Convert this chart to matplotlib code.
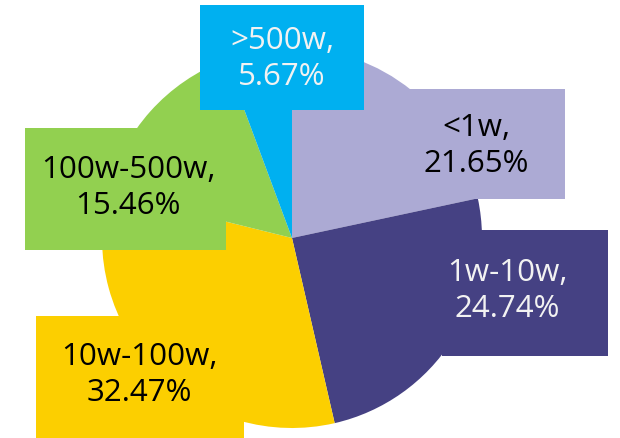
import matplotlib.pyplot as plt
from matplotlib.patches import Rectangle

# data
categorias = ['<1w', '1w-10w', '10w-100w', '100w-500w', '>500w']
percentuais = [21.65, 24.74, 32.47, 15.46, 5.67]
cores = ['#ACAAD4', '#454183', '#FCCF00', '#92D050', '#00B0F0']
cor_texto = ['black', '#F2F2F2', 'black', 'black', '#F2F2F2']

# caixas dos rotulos (x0, y0, x1, y1) em pixels, y para baixo
caixas = [(293, 89, 565, 199),
          (442, 230, 608, 356),
          (36, 316, 244, 445),
          (25, 128, 226, 250),
          (200, 5, 364, 110)]
pos_texto = [(476, 146), (507, 291), (139, 375), (128, 188), (282, 59)]

plt.rcParams['font.family'] = ['Open Sans', 'DejaVu Sans']

fig = plt.figure(figsize=(6.2, 4.38), dpi=100)
ax = fig.add_axes([0, 0, 1, 1])

# eixo invertido: sentido horario visual = anti-horario nos dados
ax.pie(percentuais, colors=cores, center=(292, 238), radius=190,
       startangle=-90, counterclock=True,
       wedgeprops=dict(linewidth=0))

for i, cat in enumerate(categorias):
    x0, y0, x1, y1 = caixas[i]
    ax.add_patch(Rectangle((x0, y0), x1 - x0, y1 - y0, facecolor=cores[i],
                           edgecolor='none', zorder=3 + i))
    tx, ty = pos_texto[i]
    ax.text(tx, ty, '%s,\n%.2f%%' % (cat, percentuais[i]), ha='center',
            va='center', fontsize=22.5, color=cor_texto[i], linespacing=1.22,
            zorder=10)

ax.set_xlim(0, 620)
ax.set_ylim(438, 0)
ax.set_aspect('auto')
ax.axis('off')

plt.savefig('out.png', dpi=100)
